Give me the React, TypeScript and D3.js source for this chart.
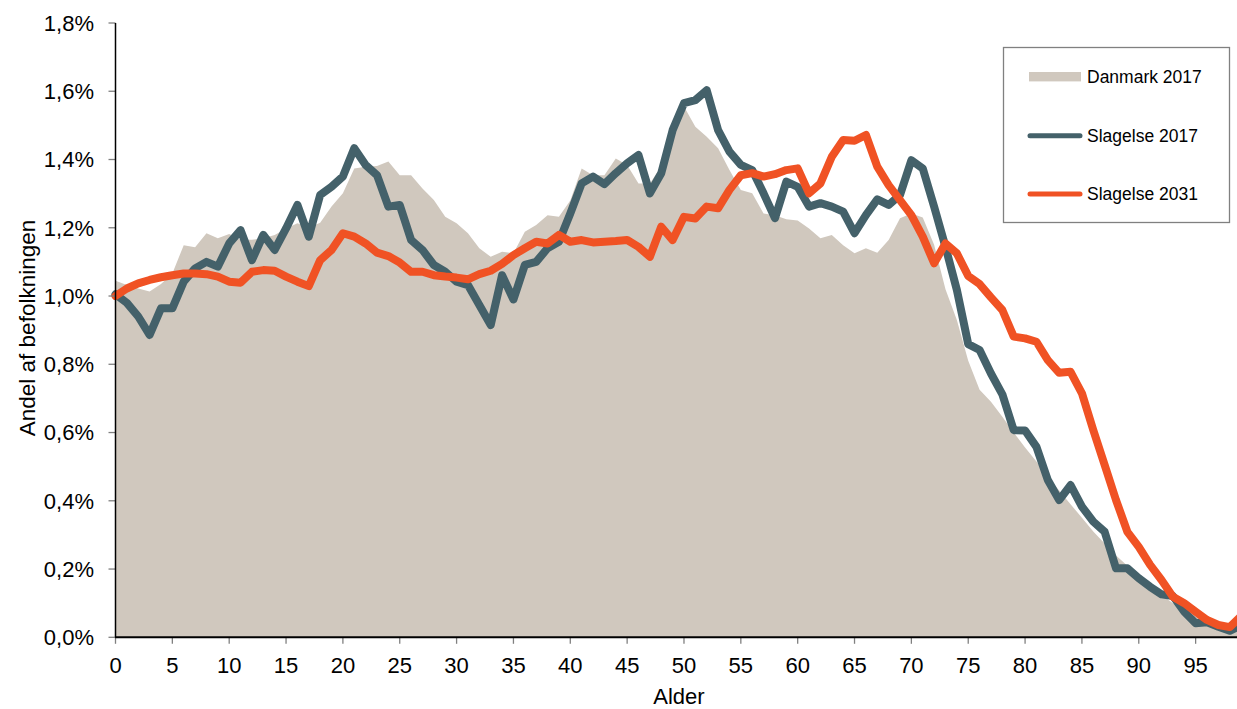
import React, { useEffect, useRef } from "react";
import * as d3 from "d3";

// Alder 0..99
const ages: number[] = d3.range(0, 100);

// Andel af befolkningen (%) pr. alder
const danmark2017: number[] = [
  1.045, 1.032, 1.022, 1.013, 1.035, 1.066, 1.149, 1.143, 1.184, 1.169,
  1.182, 1.165, 1.165, 1.169, 1.179, 1.198, 1.213, 1.2, 1.215, 1.262,
  1.301, 1.374, 1.379, 1.381, 1.394, 1.354, 1.354, 1.315, 1.281, 1.232,
  1.213, 1.184, 1.14, 1.115, 1.13, 1.125, 1.188, 1.208, 1.237, 1.232,
  1.28, 1.374, 1.354, 1.354, 1.403, 1.384, 1.33, 1.33, 1.38, 1.47,
  1.555, 1.496, 1.467, 1.433, 1.369, 1.311, 1.301, 1.242, 1.237, 1.225,
  1.221, 1.198, 1.169, 1.179, 1.149, 1.125, 1.14, 1.127, 1.164, 1.228,
  1.242, 1.23, 1.15, 1.02, 0.93, 0.81, 0.725, 0.69, 0.646, 0.6,
  0.556, 0.515, 0.47, 0.43, 0.39, 0.35, 0.31, 0.275, 0.24, 0.21,
  0.18, 0.15, 0.125, 0.1, 0.08, 0.06, 0.045, 0.033, 0.024, 0.017,
];

const slagelse2017: number[] = [
  1.005, 0.98, 0.94, 0.886, 0.964, 0.964, 1.042, 1.081, 1.1, 1.086,
  1.154, 1.193, 1.105, 1.179, 1.135, 1.198, 1.267, 1.174, 1.296, 1.32,
  1.35, 1.433, 1.384, 1.354, 1.262, 1.267, 1.164, 1.135, 1.091, 1.071,
  1.042, 1.032, 0.974, 0.915, 1.061, 0.99, 1.091, 1.1, 1.14, 1.159,
  1.242, 1.33, 1.35, 1.328, 1.36, 1.389, 1.413, 1.301, 1.36, 1.486,
  1.565, 1.574, 1.603, 1.486, 1.423, 1.384, 1.369, 1.301, 1.228, 1.335,
  1.32, 1.262, 1.272, 1.262, 1.247, 1.184, 1.237, 1.283, 1.267, 1.296,
  1.398, 1.374, 1.262, 1.144, 1.018, 0.859, 0.842, 0.773, 0.712, 0.607,
  0.606, 0.558, 0.461, 0.402, 0.446, 0.383, 0.339, 0.309, 0.202, 0.202,
  0.173, 0.148, 0.126, 0.121, 0.075, 0.041, 0.044, 0.031, 0.019, 0.035,
];

const slagelse2031: number[] = [
  1.0, 1.022, 1.037, 1.047, 1.055, 1.061, 1.066, 1.066, 1.064, 1.057,
  1.042, 1.039, 1.071, 1.076, 1.074, 1.057, 1.042, 1.029, 1.105, 1.135,
  1.184, 1.174, 1.154, 1.127, 1.117, 1.098, 1.071, 1.071, 1.061, 1.057,
  1.054, 1.049, 1.064, 1.074, 1.094, 1.12, 1.14, 1.159, 1.154, 1.179,
  1.159, 1.164, 1.157, 1.159, 1.161, 1.164, 1.144, 1.115, 1.203, 1.164,
  1.232, 1.227, 1.262, 1.257, 1.311, 1.354, 1.36, 1.35, 1.357, 1.369,
  1.374, 1.301, 1.33, 1.408, 1.457, 1.455, 1.472, 1.379, 1.325, 1.281,
  1.237, 1.174, 1.096, 1.154, 1.125, 1.059, 1.035, 0.996, 0.959, 0.881,
  0.876, 0.866, 0.812, 0.775, 0.778, 0.715, 0.607, 0.505, 0.402, 0.309,
  0.265, 0.212, 0.168, 0.119, 0.1, 0.075, 0.051, 0.036, 0.03, 0.062,
];

const xTicks: number[] = d3.range(0, 100, 5);
const yTicks: number[] = [0, 0.2, 0.4, 0.6, 0.8, 1.0, 1.2, 1.4, 1.6, 1.8];

const legendLabels: string[] = ["Danmark 2017", "Slagelse 2017", "Slagelse 2031"];

const COLORS = {
  dk: "#d0c8be",
  sl17: "#44616a",
  sl31: "#f05224",
};

const FONT = "Arial, 'Liberation Sans', sans-serif";

const App = () => {
  const svgRef = useRef<SVGSVGElement>(null);

  useEffect(() => {
    const width = 1237;
    const height = 709;

    const svg = d3.select(svgRef.current);
    svg.selectAll("*").remove();
    svg.attr("width", width).attr("height", height);

    const x = d3.scaleLinear().domain([0, 99]).range([115.5, 1241.1]);
    const y = d3.scaleLinear().domain([0, 1.8]).range([637.3, 23]);

    // Område: Danmark 2017
    const area = d3
      .area<number>()
      .x((_, i) => x(ages[i]))
      .y0(y(0))
      .y1((d) => y(d));
    svg.append("path").datum(danmark2017).attr("d", area).attr("fill", COLORS.dk);

    // Linjer
    const line = d3
      .line<number>()
      .x((_, i) => x(ages[i]))
      .y((d) => y(d));

    [
      { data: slagelse2017, color: COLORS.sl17 },
      { data: slagelse2031, color: COLORS.sl31 },
    ].forEach((s) => {
      svg
        .append("path")
        .datum(s.data)
        .attr("d", line)
        .attr("fill", "none")
        .attr("stroke", s.color)
        .attr("stroke-width", 8)
        .attr("stroke-linejoin", "round")
        .attr("stroke-linecap", "round");
    });

    // Y-akse
    const yAxis = svg.append("g");
    yAxis
      .selectAll("line.tick")
      .data(yTicks)
      .enter()
      .append("line")
      .attr("x1", 108.5)
      .attr("x2", 115.5)
      .attr("y1", (d) => y(d))
      .attr("y2", (d) => y(d))
      .attr("stroke", "#808080")
      .attr("stroke-width", 1.3);
    yAxis
      .selectAll("text")
      .data(yTicks)
      .enter()
      .append("text")
      .attr("x", 94)
      .attr("y", (d) => y(d) + 7.8)
      .attr("text-anchor", "end")
      .attr("font-family", FONT)
      .attr("font-size", 22)
      .attr("fill", "#000")
      .text((d) => d3.format(".1f")(d).replace(".", ",") + "%");
    yAxis
      .append("line")
      .attr("x1", 115.5)
      .attr("x2", 115.5)
      .attr("y1", y(1.8))
      .attr("y2", y(0))
      .attr("stroke", "#000")
      .attr("stroke-width", 1.5);

    // X-akse
    const xAxis = svg.append("g");
    xAxis
      .selectAll("line.tick")
      .data(xTicks)
      .enter()
      .append("line")
      .attr("x1", (d) => x(d))
      .attr("x2", (d) => x(d))
      .attr("y1", y(0))
      .attr("y2", y(0) + 6.5)
      .attr("stroke", "#808080")
      .attr("stroke-width", 1.3);
    xAxis
      .selectAll("text")
      .data(xTicks)
      .enter()
      .append("text")
      .attr("x", (d) => x(d))
      .attr("y", 672.7)
      .attr("text-anchor", "middle")
      .attr("font-family", FONT)
      .attr("font-size", 22)
      .attr("fill", "#000")
      .text((d) => String(d));
    xAxis
      .append("line")
      .attr("x1", 115)
      .attr("x2", width)
      .attr("y1", y(0))
      .attr("y2", y(0))
      .attr("stroke", "#000")
      .attr("stroke-width", 2);

    // Aksetitler
    svg
      .append("text")
      .attr("x", 679)
      .attr("y", 703.5)
      .attr("text-anchor", "middle")
      .attr("font-family", FONT)
      .attr("font-size", 22)
      .text("Alder");
    svg
      .append("text")
      .attr("transform", "translate(35,328) rotate(-90)")
      .attr("text-anchor", "middle")
      .attr("font-family", FONT)
      .attr("font-size", 22.5)
      .text("Andel af befolkningen");

    // Forklaring
    const legend = svg.append("g");
    legend
      .append("rect")
      .attr("x", 1003.5)
      .attr("y", 47.5)
      .attr("width", 226)
      .attr("height", 175)
      .attr("fill", "#fff")
      .attr("stroke", "#808080")
      .attr("stroke-width", 1.3);
    const rows = [76.7, 135.7, 194];
    legend
      .append("rect")
      .attr("x", 1029)
      .attr("y", rows[0] - 4.7)
      .attr("width", 52)
      .attr("height", 9.4)
      .attr("fill", COLORS.dk);
    [COLORS.sl17, COLORS.sl31].forEach((c, i) => {
      legend
        .append("line")
        .attr("x1", 1030)
        .attr("x2", 1080)
        .attr("y1", rows[i + 1])
        .attr("y2", rows[i + 1])
        .attr("stroke", c)
        .attr("stroke-width", 5)
        .attr("stroke-linecap", "round");
    });
    legend
      .selectAll("text")
      .data(legendLabels)
      .enter()
      .append("text")
      .attr("x", 1087)
      .attr("y", (_, i) => rows[i] + 6.2)
      .attr("font-family", FONT)
      .attr("font-size", 17.5)
      .attr("fill", "#000")
      .text((d) => d);
  }, []);

  return (
    <svg
      ref={svgRef}
      style={{ position: "absolute", left: 0, top: 0, display: "block" }}
    ></svg>
  );
};

export default App;
